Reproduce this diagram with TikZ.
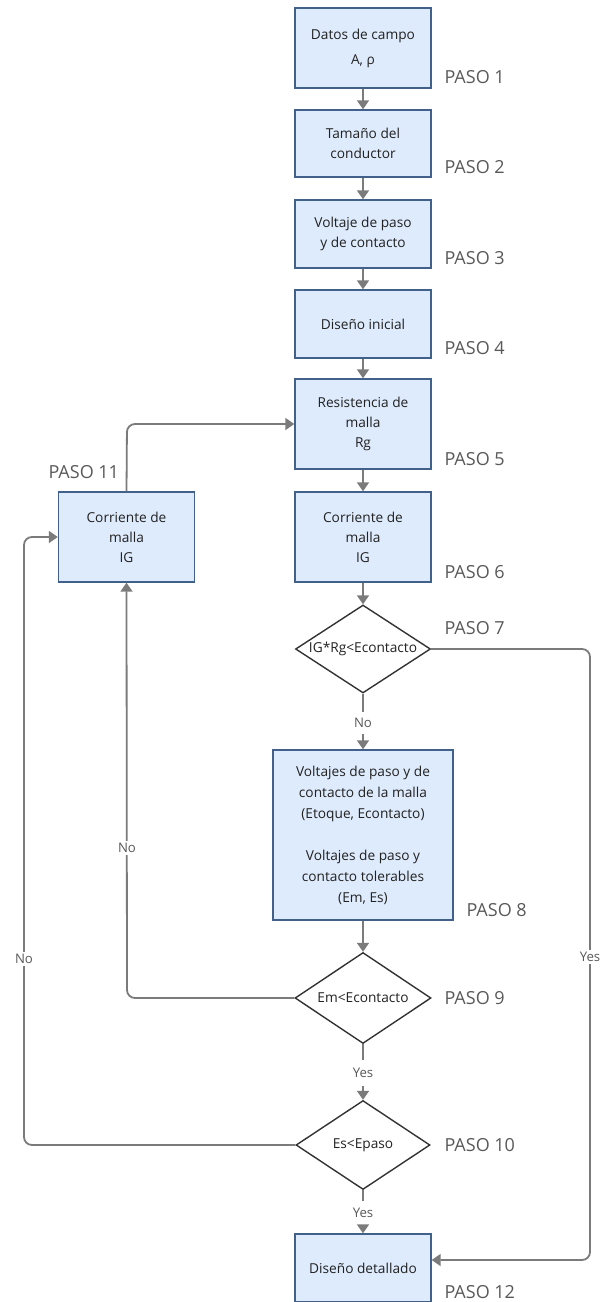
\documentclass[tikz,border=0pt]{standalone}
\usepackage{fontspec}
\setmainfont{Open Sans}
\usetikzlibrary{shapes.geometric,arrows.meta}
\definecolor{boxfill}{HTML}{DEEBFC}
\definecolor{boxline}{HTML}{41608A}
\definecolor{conn}{HTML}{7B7B7B}
\definecolor{txt}{HTML}{222222}
\definecolor{lbl}{HTML}{595959}
\tikzset{
  stepbox/.style={draw=boxline, line width=1.4pt, fill=boxfill, minimum width=136pt, inner sep=2pt,
    align=center, font=\fontsize{13.7}{20}\selectfont, text=txt},
  decision/.style={draw=black!80, line width=1.4pt, fill=white, shape=diamond, inner sep=0pt,
    minimum width=136pt, minimum height=89pt},
  dtext/.style={font=\fontsize{13.7}{15}\selectfont, text=txt, inner sep=0pt},
  paso/.style={anchor=west, font=\fontsize{18}{20}\selectfont, text=lbl},
  conn/.style={draw=conn, line width=1.8pt, -{Triangle[width=12pt,length=9pt]}, rounded corners=8pt},
  plain/.style={draw=conn, line width=1.8pt, rounded corners=8pt},
  ans/.style={fill=white, font=\fontsize{13.2}{15}\selectfont, text=lbl, inner sep=2pt}
}
\begin{document}
\begin{tikzpicture}[x=1pt,y=-1pt]
\useasboundingbox (0,0) rectangle (602,1302);
% boxes
\node[stepbox, minimum height=80pt, font=\fontsize{13.7}{25}\selectfont] (b1) at (363,48) {Datos de campo\\A, ρ};
\node[stepbox, minimum height=67pt] (b2) at (363,143.5) {Tamaño del\\conductor};
\node[stepbox, minimum height=68pt] (b3) at (363,234) {Voltaje de paso\\y de contacto};
\node[stepbox, minimum height=68pt] (b4) at (363,324) {Diseño inicial};
\node[stepbox, minimum height=90pt] (b5) at (363,424) {Resistencia de\\malla\\Rg};
\node[stepbox, minimum height=90pt] (b6) at (363,537) {Corriente de\\malla\\IG};
\node[stepbox, minimum height=90pt] (b11) at (126.5,537) {Corriente de\\malla\\IG};
\node[decision, minimum width=135pt, minimum height=88pt] (d7) at (363,649) {};
\node[dtext] (d7t) at (d7.center) {IG*Rg<Econtacto};
\node[stepbox, minimum width=180pt, minimum height=170pt, font=\fontsize{13.7}{21}\selectfont] (b8) at (363,835)
  {Voltajes de paso y de\\contacto de la malla\\(Etoque, Econtacto)\\[21pt]Voltajes de paso y\\contacto tolerables\\(Em, Es)};
\node[decision, minimum height=91pt] (d9) at (363,998) {};
\node[dtext] (d9t) at (d9.center) {Em<Econtacto};
\node[decision, minimum width=134pt, minimum height=89pt] (d10) at (363,1145) {};
\node[dtext] (d10t) at (d10.center) {Es<Epaso};
\node[stepbox, minimum height=68pt] (b12) at (363,1268) {Diseño detallado};
% step labels
\node[paso] (p1) at (441,77) {PASO 1};
\node[paso] (p2) at (441,167) {PASO 2};
\node[paso] (p3) at (441,258) {PASO 3};
\node[paso] (p4) at (441,348) {PASO 4};
\node[paso] (p5) at (441,459) {PASO 5};
\node[paso] (p6) at (441,572) {PASO 6};
\node[paso] (p7) at (441,628) {PASO 7};
\node[paso] (p8) at (463,910) {PASO 8};
\node[paso] (p9) at (441,998) {PASO 9};
\node[paso] (p10) at (441,1145) {PASO 10};
\node[paso] (p11) at (45,472) {PASO 11};
\node[paso] (p12) at (441,1292) {PASO 12};
% coordinates
\coordinate (r1) at (590,649);
\coordinate (r2) at (590,1260);
\coordinate (l9) at (127,998);
\coordinate (l10a) at (24,1145);
\coordinate (l10b) at (24,537);
\coordinate (t11) at (127,424);
% connectors
\draw[conn] (b1) -- (b2);
\draw[conn] (b2) -- (b3);
\draw[conn] (b3) -- (b4);
\draw[conn] (b4) -- (b5);
\draw[conn] (b5) -- (b6);
\draw[conn] (b6) -- (d7);
\draw[plain] (d7.south) -- (363,712);
\draw[conn] (363,734) -- (b8.north);
\node[ans] (n7) at (363,723) {No};
\draw[conn] (b8) -- (d9);
\draw[plain] (d9.south) -- (363,1060);
\draw[conn] (363,1086) -- (d10.north);
\node[ans] (y9) at (363,1073) {Yes};
\draw[plain] (d10.south) -- (363,1201);
\draw[conn] (363,1225) -- (b12.north);
\node[ans] (y10) at (363,1213) {Yes};
\draw[conn] (d7.east) -- (r1) -- (r2) -- (b12.east |- r2);
\node[ans] (y7) at (590,957) {Yes};
\draw[conn] (d9.west) -- (l9) -- (b11.south);
\node[ans] (n9) at (127,848) {No};
\draw[conn] (d10.west) -- (l10a) -- (l10b) -- (b11.west);
\node[ans] (n10) at (24,959) {No};
\draw[conn] (b11.north) -- (t11) -- (b5.west);
\end{tikzpicture}
\end{document}
